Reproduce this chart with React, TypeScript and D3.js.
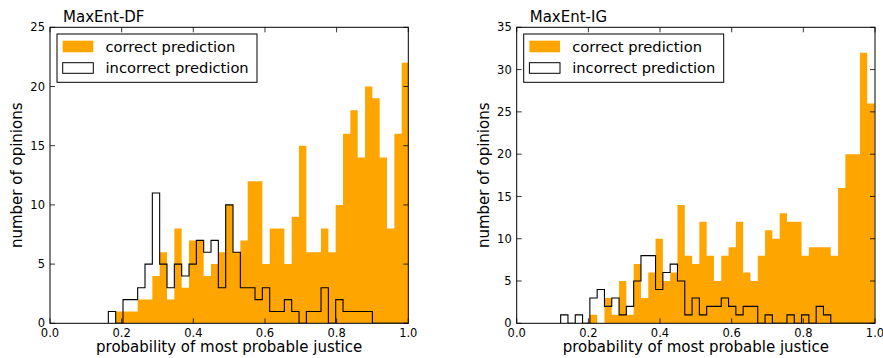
import React from 'react';
import * as d3 from 'd3';

// histogram counts, one entry per bin
const dfCorrect = [0, 1, 1, 1, 2, 2, 4, 6, 2, 8, 3, 7, 7, 4, 5, 6, 10, 6, 7, 12, 12, 5, 8, 8, 5, 9, 15, 6, 6, 8, 6, 10, 16, 18, 14, 20, 19, 14, 8, 16, 22];
const dfIncorrect = [1, 0, 2, 2, 3, 5, 11, 5, 3, 5, 4, 5, 7, 6, 7, 3, 10, 6, 3, 3, 2, 3, 1, 1, 2, 1, 0, 1, 1, 3, 0, 2, 1, 1, 1, 1, 0, 0, 0, 0, 0];
const igCorrect = [0, 0, 0, 0, 1, 0, 3, 1, 5, 1, 7, 3, 6, 10, 5, 6, 14, 8, 7, 12, 8, 5, 8, 9, 12, 6, 5, 8, 11, 10, 13, 12, 12, 8, 9, 9, 9, 8, 16, 20, 20, 32, 26];
const igIncorrect = [1, 0, 1, 0, 3, 4, 2, 3, 1, 2, 5, 8, 8, 4, 6, 7, 5, 1, 3, 1, 2, 2, 3, 2, 1, 2, 2, 0, 1, 0, 0, 1, 0, 1, 0, 2, 1, 0, 0, 0, 0, 0, 0];

// bin edges (data units): first edge and bin width
const dfBins = { start: 0.1628, width: 0.02047 };
const igBins = { start: 0.1227, width: 0.020374 };

const xTicks = [0, 0.2, 0.4, 0.6, 0.8, 1.0];
const dfYTicks = [0, 5, 10, 15, 20, 25];
const igYTicks = [0, 5, 10, 15, 20, 25, 30, 35];

const legendLabels = ['correct prediction', 'incorrect prediction'];
const FONT = '"DejaVu Sans", sans-serif';
const ORANGE = '#FFA500';

type PanelProps = {
  id: string;
  left: number;
  title: string;
  correct: number[];
  incorrect: number[];
  bins: { start: number; width: number };
  yTicks: number[];
};

const TOP = 27.3;
const W = 358.3;
const H = 296;
const TICK = 5;

const Panel = ({ id, left, title, correct, incorrect, bins, yTicks }: PanelProps) => {
  const x = d3.scaleLinear().domain([0, 1]).range([0, W]);
  const y = d3.scaleLinear().domain([0, yTicks[yTicks.length - 1]]).range([H, 0]);

  // outline of a histogram: up and across each bin, back down to 0 at the end
  const stepPoints = (counts: number[]): [number, number][] => {
    const pts: [number, number][] = [[bins.start, 0]];
    counts.forEach((c, i) => {
      const e0 = bins.start + i * bins.width;
      pts.push([e0, c], [e0 + bins.width, c]);
    });
    pts.push([bins.start + counts.length * bins.width, 0]);
    return pts;
  };

  const line = d3.line<[number, number]>().x((d) => x(d[0])).y((d) => y(d[1]));
  const fmtX = d3.format('.1f');

  return (
    <g transform={`translate(${left},${TOP})`}>
      <defs>
        <clipPath id={`clip-${id}`}>
          <rect x={0} y={0} width={W} height={H} />
        </clipPath>
      </defs>
      <g clipPath={`url(#clip-${id})`}>
        <path d={line(stepPoints(correct)) + 'Z'} fill={ORANGE} stroke="none" />
        <path d={line(stepPoints(incorrect)) || ''} fill="none" stroke="#000" strokeWidth={1.1} />
      </g>

      {/* ticks, inward on all four sides */}
      {xTicks.map((t) => (
        <g key={`xt${t}`}>
          <line x1={x(t)} x2={x(t)} y1={H} y2={H - TICK} stroke="#000" strokeWidth={0.8} />
          <line x1={x(t)} x2={x(t)} y1={0} y2={TICK} stroke="#000" strokeWidth={0.8} />
          <text x={x(t)} y={H + 13.4} textAnchor="middle" fontSize={11.5} fontFamily={FONT} fill="#000">
            {fmtX(t)}
          </text>
        </g>
      ))}
      {yTicks.map((t) => (
        <g key={`yt${t}`}>
          <line x1={0} x2={TICK} y1={y(t)} y2={y(t)} stroke="#000" strokeWidth={0.8} />
          <line x1={W} x2={W - TICK} y1={y(t)} y2={y(t)} stroke="#000" strokeWidth={0.8} />
          <text x={-5} y={y(t)} dy="0.36em" textAnchor="end" fontSize={11.5} fontFamily={FONT} fill="#000">
            {t}
          </text>
        </g>
      ))}

      <rect x={0} y={0} width={W} height={H} fill="none" stroke="#000" strokeWidth={1} />

      <text x={13} y={-5.8} fontSize={15} fontFamily={FONT} fill="#000">{title}</text>

      <text x={W / 2} y={H + 28.5} textAnchor="middle" fontSize={15} fontFamily={FONT} fill="#000">
        probability of most probable justice
      </text>
      <text
        transform={`translate(${-28},${H / 2}) rotate(-90)`}
        textAnchor="middle"
        fontSize={15}
        fontFamily={FONT}
        fill="#000"
      >
        number of opinions
      </text>

      {/* legend */}
      <g transform="translate(7,6.7)">
        <rect x={0} y={0} width={200} height={48.3} fill="#fff" stroke="#000" strokeWidth={1} />
        <rect x={5.7} y={6.7} width={30.6} height={11.6} fill={ORANGE} />
        <rect x={5.7} y={28.7} width={30.6} height={10.6} fill="#fff" stroke="#000" strokeWidth={1} />
        <text x={48.5} y={17.5} fontSize={14.7} fontFamily={FONT} fill="#000">{legendLabels[0]}</text>
        <text x={48.5} y={39} fontSize={14.7} fontFamily={FONT} fill="#000">{legendLabels[1]}</text>
      </g>
    </g>
  );
};

export default function App() {
  return (
    <svg
      width={883}
      height={358}
      style={{ position: 'absolute', left: 0, top: 0, background: '#fff' }}
    >
      <rect width={883} height={358} fill="#fff" />
      <Panel id="df" left={50} title="MaxEnt-DF" correct={dfCorrect} incorrect={dfIncorrect} bins={dfBins} yTicks={dfYTicks} />
      <Panel id="ig" left={516.7} title="MaxEnt-IG" correct={igCorrect} incorrect={igIncorrect} bins={igBins} yTicks={igYTicks} />
    </svg>
  );
}
